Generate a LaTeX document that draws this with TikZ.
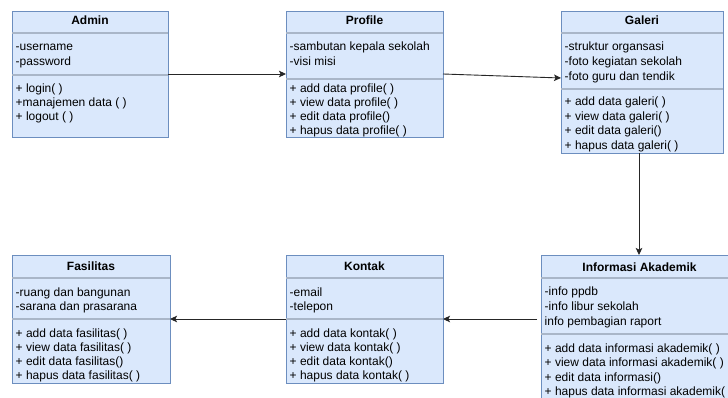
\documentclass[tikz,border=0pt]{standalone}
\usepackage{fontspec}
\setmainfont{Liberation Sans}
\usetikzlibrary{arrows.meta}
\definecolor{boxfill}{HTML}{DAE8FC}
\definecolor{boxline}{HTML}{6C8EBF}
\definecolor{divcol}{HTML}{A9B6C8}
\begin{document}
\begin{tikzpicture}[x=1pt,y=-1pt,
  classbox/.style={draw=boxline, fill=boxfill, line width=0.9pt, inner sep=0pt, outer sep=0pt, anchor=north west},
  ctitle/.style={font=\fontsize{12}{14}\selectfont\bfseries, inner sep=0pt, anchor=base},
  ctext/.style={font=\fontsize{12}{14}\selectfont, inner sep=0pt, anchor=base west},
  divider/.style={draw=divcol, line width=1.6pt},
  arr/.style={draw=black!85, line width=0.9pt, -{Stealth[length=7pt,width=6.5pt,inset=1.5pt]}}]
\useasboundingbox (0,0) rectangle (728,398);
\clip (0,0) rectangle (728,398);
\fill[white] (0,0) rectangle (728,398);

% ---------- Admin ----------
\node[classbox, minimum width=156pt, minimum height=126pt] (admin) at (12,11) {};
\node[ctitle] (admin-t) at ([yshift=-14pt]admin.north) {Admin};
\draw[divider] ([yshift=-22pt]admin.north west) -- ([yshift=-22pt]admin.north east);
\draw[divider] ([yshift=-64pt]admin.north west) -- ([yshift=-64pt]admin.north east);
\foreach \t [count=\i from 0] in {{-username},{-password}}
  \node[ctext] (admin-a\i) at ([xshift=3.5pt,yshift={-(40+15*\i)*1pt}]admin.north west) {\t};
\foreach \t [count=\i from 0] in {{+ login( )},{+manajemen data ( )},{+ logout ( )}}
  \node[ctext] (admin-m\i) at ([xshift=3.5pt,yshift={-(82+14*\i)*1pt}]admin.north west) {\t};

% ---------- Profile ----------
\node[classbox, minimum width=157pt, minimum height=126pt] (profile) at (286,11) {};
\node[ctitle] (profile-t) at ([yshift=-14pt]profile.north) {Profile};
\draw[divider] ([yshift=-22pt]profile.north west) -- ([yshift=-22pt]profile.north east);
\draw[divider] ([yshift=-68pt]profile.north west) -- ([yshift=-68pt]profile.north east);
\foreach \t [count=\i from 0] in {{-sambutan kepala sekolah},{-visi misi}}
  \node[ctext] (profile-a\i) at ([xshift=3.5pt,yshift={-(40+15*\i)*1pt}]profile.north west) {\t};
\foreach \t [count=\i from 0] in {{+ add data profile( )},{+ view data profile( )},{+ edit data profile()},{+ hapus data profile( )}}
  \node[ctext] (profile-m\i) at ([xshift=3.5pt,yshift={-(82+14*\i)*1pt}]profile.north west) {\t};

% ---------- Galeri ----------
\node[classbox, minimum width=162pt, minimum height=142pt] (galeri) at (561,11) {};
\node[ctitle] (galeri-t) at ([yshift=-14pt]galeri.north) {Galeri};
\draw[divider] ([yshift=-22pt]galeri.north west) -- ([yshift=-22pt]galeri.north east);
\draw[divider] ([yshift=-78pt]galeri.north west) -- ([yshift=-78pt]galeri.north east);
\foreach \t [count=\i from 0] in {{-struktur organsasi},{-foto kegiatan sekolah},{-foto guru dan tendik}}
  \node[ctext] (galeri-a\i) at ([xshift=3.5pt,yshift={-(40+15*\i)*1pt}]galeri.north west) {\t};
\foreach \t [count=\i from 0] in {{+ add data galeri( )},{+ view data galeri( )},{+ edit data galeri()},{+ hapus data galeri( )}}
  \node[ctext] (galeri-m\i) at ([xshift=3.5pt,yshift={-(95+14.4*\i)*1pt}]galeri.north west) {\t};

% ---------- Fasilitas ----------
\node[classbox, minimum width=158pt, minimum height=128pt] (fasilitas) at (12,255) {};
\node[ctitle] (fasilitas-t) at ([yshift=-15pt]fasilitas.north) {Fasilitas};
\draw[divider] ([yshift=-23pt]fasilitas.north west) -- ([yshift=-23pt]fasilitas.north east);
\draw[divider] ([yshift=-64pt]fasilitas.north west) -- ([yshift=-64pt]fasilitas.north east);
\foreach \t [count=\i from 0] in {{-ruang dan bangunan},{-sarana dan prasarana}}
  \node[ctext] (fasilitas-a\i) at ([xshift=3.5pt,yshift={-(41+14.5*\i)*1pt}]fasilitas.north west) {\t};
\foreach \t [count=\i from 0] in {{+ add data fasilitas( )},{+ view data fasilitas( )},{+ edit data fasilitas()},{+ hapus data fasilitas( )}}
  \node[ctext] (fasilitas-m\i) at ([xshift=3.5pt,yshift={-(82+14*\i)*1pt}]fasilitas.north west) {\t};

% ---------- Kontak ----------
\node[classbox, minimum width=157pt, minimum height=128pt] (kontak) at (286,255) {};
\node[ctitle] (kontak-t) at ([yshift=-15pt]kontak.north) {Kontak};
\draw[divider] ([yshift=-23pt]kontak.north west) -- ([yshift=-23pt]kontak.north east);
\draw[divider] ([yshift=-64pt]kontak.north west) -- ([yshift=-64pt]kontak.north east);
\foreach \t [count=\i from 0] in {{-email},{-telepon}}
  \node[ctext] (kontak-a\i) at ([xshift=3.5pt,yshift={-(41+14.5*\i)*1pt}]kontak.north west) {\t};
\foreach \t [count=\i from 0] in {{+ add data kontak( )},{+ view data kontak( )},{+ edit data kontak()},{+ hapus data kontak( )}}
  \node[ctext] (kontak-m\i) at ([xshift=3.5pt,yshift={-(82+14*\i)*1pt}]kontak.north west) {\t};

% ---------- Informasi Akademik ----------
\node[classbox, minimum width=197pt, minimum height=160pt] (info) at (541,255) {};
\node[ctitle] (info-t) at ([yshift=-16pt]info.north) {Informasi Akademik};
\draw[divider] ([yshift=-23pt]info.north west) -- ([yshift=-23pt]info.north east);
\draw[divider] ([yshift=-79pt]info.north west) -- ([yshift=-79pt]info.north east);
\foreach \t [count=\i from 0] in {{-info ppdb},{-info libur sekolah},{info pembagian raport}}
  \node[ctext] (info-a\i) at ([xshift=3.5pt,yshift={-(40+15*\i)*1pt}]info.north west) {\t};
\foreach \t [count=\i from 0] in {{+ add data informasi akademik( )},{+ view data informasi akademik( )},{+ edit data informasi()},{+ hapus data informasi akademik( )}}
  \node[ctext] (info-m\i) at ([xshift=3.5pt,yshift={-(97+14.5*\i)*1pt}]info.north west) {\t};

% ---------- connectors ----------
\coordinate (ya) at (0,74);
\coordinate (yb) at (0,78);
\coordinate (gx) at (639,0);
\coordinate (yc) at (0,319);
\draw[arr] (admin.east |- ya) -- (profile.west |- ya);
\draw[arr] (profile.east |- ya) -- (galeri.west |- yb);
\draw[arr] (gx |- galeri.south) -- (gx |- info.north);
\draw[arr, shorten <=4pt] (info.west |- yc) -- (kontak.east |- yc);
\draw[arr] (kontak.west |- yc) -- (fasilitas.east |- yc);
\end{tikzpicture}
\end{document}
